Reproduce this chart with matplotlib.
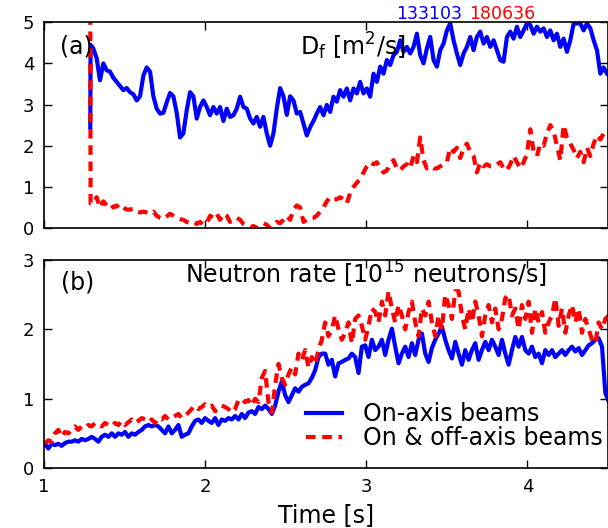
import numpy as np
import matplotlib.pyplot as plt

DT = 0.0207
T0_DF = 1.306
T0_NEUT = 1.006
T_JUMP = 1.287

# (a) fast-ion diffusivity D_f [m^2/s]
df_jump_on = [2.45, 4.45]
df_jump_off = [5.6, 0.6]
df_on = [4.36, 4.12, 3.59, 4.0, 3.83, 3.8, 3.65, 3.55, 3.45, 3.35, 3.4, 3.3, 3.25, 3.1,
         3.2, 3.7, 3.9, 3.8, 3.2, 2.9, 2.78, 2.8, 3.05, 3.28, 3.2, 2.8, 2.2, 2.3, 2.86,
         3.3, 3.2, 2.66, 2.94, 3.1, 2.94, 2.74, 2.94, 2.78, 2.94, 2.6, 2.9, 2.7, 2.74,
         2.9, 3.19, 2.94, 2.9, 2.66, 2.54, 2.7, 2.46, 2.7, 2.3, 2.0, 2.3, 2.9, 3.4, 3.2,
         2.75, 3.2, 3.1, 2.78,
         2.82, 2.54, 2.25, 2.45, 2.6, 2.78, 2.94, 2.74, 2.99, 2.82, 3.19, 3.07, 3.35,
         3.19, 3.39, 3.1, 3.39, 3.27, 3.55, 3.27, 3.39, 3.19, 3.75, 3.55, 3.92, 3.75,
         4.08, 3.96, 4.2, 4.28, 4.56, 4.28, 4.4, 4.24, 4.4, 4.72, 4.2, 4.0, 4.36, 4.64,
         4.08, 3.92, 4.32, 4.48, 4.8, 4.97, 4.56, 4.24, 3.96, 4.24, 4.4, 4.64, 4.32,
         4.64, 4.77, 4.48, 4.64, 4.4, 4.56, 4.32, 4.08, 4.04, 4.64, 4.77, 4.6, 4.89,
         4.64, 4.8, 4.97, 4.93, 4.72, 4.89, 4.77, 4.85, 4.64, 4.8, 4.56, 4.72, 4.4, 4.6,
         4.28, 4.56, 4.97, 4.97, 4.97, 4.8, 4.97, 4.85, 4.56, 4.32, 3.75, 3.9, 3.75]
df_off = [0.6, 0.75, 0.5, 0.65, 0.55, 0.6, 0.5, 0.55, 0.45, 0.5, 0.45, 0.45, 0.47, 0.4,
          0.38, 0.4, 0.38, 0.35, 0.4, 0.3, 0.25, 0.22, 0.28, 0.35, 0.3, 0.25, 0.22, 0.2,
          0.15, 0.12, 0.15, 0.1, 0.15, 0.08, 0.12, 0.3, 0.25, 0.35, 0.2, 0.35, 0.3, 0.15,
          0.2, 0.25, 0.2, 0.1, 0.05, 0.02, 0.05, 0.0, 0.05, 0.12, 0.08, 0.0, 0.05, 0.15,
          0.12, 0.2, 0.3, 0.2, 0.45, 0.55,
          0.5, 0.15, 0.2, 0.25, 0.25, 0.3, 0.4, 0.5, 0.65, 0.75, 0.7, 0.7, 0.75, 0.7,
          0.6, 0.85, 1.0, 1.1, 1.2, 1.35, 1.5, 1.6, 1.55, 1.6, 1.45, 1.35, 1.4, 1.55,
          1.65, 1.45, 1.4, 1.5, 1.55, 1.45, 1.75, 1.6, 2.2, 1.65, 1.45, 1.5, 1.45, 1.45,
          1.5, 1.55, 1.6, 1.95, 1.85, 1.95, 1.7, 1.95, 2.05, 1.85, 1.75, 1.35, 1.6, 1.5,
          1.55, 1.5, 1.5, 1.55, 1.6, 1.45, 1.4, 1.55, 1.75, 1.6, 1.45, 1.6, 1.8, 2.4,
          1.85, 1.75, 2.05, 2.0, 2.3, 2.5, 2.35, 2.0, 1.65, 2.5, 2.2, 2.05, 1.9, 1.7,
          1.85, 1.6, 1.95, 1.75, 2.05, 2.25, 2.15, 2.3, 2.3]

# (b) neutron rate [1e15 n/s]
neut_on = [0.35, 0.28, 0.35, 0.33, 0.35, 0.32, 0.36, 0.38, 0.38, 0.4, 0.38, 0.42, 0.4,
           0.42, 0.45, 0.42, 0.38, 0.45, 0.48, 0.45, 0.5, 0.45, 0.5, 0.48, 0.52, 0.45,
           0.5, 0.48, 0.52, 0.55, 0.6, 0.62, 0.6, 0.62, 0.6, 0.55, 0.5, 0.6, 0.5, 0.55,
           0.62, 0.45, 0.48, 0.5, 0.6, 0.68, 0.7, 0.65, 0.72, 0.68, 0.65, 0.72, 0.62,
           0.7, 0.68, 0.72, 0.7, 0.75, 0.7, 0.78, 0.72, 0.8, 0.82, 0.78, 0.88, 0.85, 0.9,
           0.85, 0.78, 0.9, 1.1, 1.25, 1.05, 0.95, 1.05, 1.15, 1.1,
           1.17, 1.2, 1.22, 1.3, 1.41, 1.6, 1.65, 1.65, 1.49, 1.56, 1.32, 1.51, 1.53,
           1.56, 1.58, 1.65, 1.6, 1.37, 1.75, 1.77, 1.6, 1.85, 1.7, 1.75, 1.85, 1.63,
           1.85, 2.01, 1.75, 1.51, 1.65, 1.75, 1.6, 1.8, 1.63, 1.85, 1.94, 1.65, 1.53,
           1.73, 1.85, 1.94, 2.04, 1.85, 1.7, 1.58, 1.82, 1.65, 1.49, 1.7, 1.56, 1.7,
           1.8, 1.56, 1.7, 1.82, 1.7, 1.85, 1.75, 1.63, 1.85, 1.65, 1.49, 1.7, 1.89,
           1.75, 1.89, 1.7, 1.65, 1.75, 1.6, 1.65, 1.51, 1.7, 1.63, 1.7, 1.6, 1.65, 1.7,
           1.63, 1.7, 1.75, 1.68, 1.73, 1.63, 1.7, 1.77, 1.8, 1.85, 1.87, 1.75, 1.08,
           0.96]
neut_off = [0.35, 0.4, 0.38, 0.5, 0.55, 0.45, 0.52, 0.5, 0.55, 0.6, 0.55, 0.6, 0.58,
            0.62, 0.6, 0.65, 0.62, 0.6, 0.65, 0.62, 0.6, 0.65, 0.62, 0.68, 0.62, 0.66,
            0.7, 0.65, 0.68, 0.72, 0.7, 0.66, 0.7, 0.65, 0.72, 0.7, 0.75, 0.7, 0.72,
            0.75, 0.78, 0.72, 0.75, 0.8, 0.85, 0.9, 0.85, 0.88, 0.92, 0.88, 0.9, 0.82,
            0.85, 0.9, 0.88, 0.85, 0.8, 0.85, 0.98, 1.0, 0.95, 0.98, 0.9, 1.0, 0.95,
            1.3, 1.4, 0.95, 0.8, 1.2, 1.5, 1.3, 1.2, 1.35, 1.45, 1.35, 1.65,
            1.55, 1.7, 1.45, 1.6, 1.5, 1.7, 1.85, 2.1, 1.9, 2.0, 2.2, 2.0, 1.85, 1.95,
            2.1, 1.8, 2.15, 2.2, 2.05, 1.85, 2.05, 2.3, 2.25, 2.1, 2.4, 2.2, 2.55, 2.3,
            2.1, 2.35, 2.2, 2.0, 2.25, 2.4, 2.1, 1.9, 2.3, 2.2, 2.4, 2.1, 1.9, 2.2, 2.0,
            2.5, 2.35, 2.15, 2.55, 2.55, 2.2, 2.0, 2.3, 2.1, 2.4, 2.2, 1.9, 2.2, 2.35,
            2.1, 2.3, 2.0, 2.15, 2.45, 2.5, 2.2, 2.3, 2.0, 2.35, 2.15, 2.4, 1.95, 2.3,
            2.1, 2.25, 1.95, 2.1, 2.2, 2.45, 2.05, 2.3, 1.95, 2.2, 2.35, 2.1, 2.3, 1.95,
            2.15, 2.0, 1.85, 1.8, 2.1, 2.0, 2.15, 2.2]

BLUE = "#0000ff"
RED = "#ff0000"
LW = 3.0
DASH = (0, (2.3, 1.6))
FS_TICK = 13
FS_TEXT = 17

plt.rcParams.update({
    "font.family": "DejaVu Sans",
    "font.size": FS_TEXT,
    "xtick.labelsize": FS_TICK,
    "ytick.labelsize": FS_TICK,
    "xtick.direction": "in",
    "ytick.direction": "in",
    "xtick.top": True,
    "ytick.right": True,
    "xtick.major.size": 6,
    "ytick.major.size": 6,
    "xtick.major.pad": 7,
    "ytick.major.pad": 7,
    "xtick.major.width": 1.0,
    "ytick.major.width": 1.0,
    "axes.linewidth": 1.2,
})

fig = plt.figure(figsize=(6.08, 5.28), dpi=100)
ax1 = fig.add_axes([0.0724, 0.568, 0.9276, 0.390])
ax2 = fig.add_axes([0.0724, 0.1136, 0.9276, 0.394])

# ---- (a) D_f ----
t_df_on = np.concatenate([[T_JUMP, T_JUMP + 0.002], T0_DF + DT * np.arange(len(df_on))])
t_df_off = np.concatenate([[T_JUMP, T_JUMP + 0.002], T0_DF + DT * np.arange(len(df_off))])
ax1.plot(t_df_on, df_jump_on + df_on, color=BLUE, lw=LW)
ax1.plot(t_df_off, df_jump_off + df_off, color=RED, lw=LW, linestyle=DASH)
ax1.set_xlim(1, 4.5)
ax1.set_ylim(0, 5)
ax1.set_xticks([1, 2, 3, 4])
ax1.set_xticklabels([])
ax1.set_yticks([0, 1, 2, 3, 4, 5])
ax1.text(0.028, 0.88, "(a)", transform=ax1.transAxes, va="center", ha="left")
ax1.text(0.453, 0.885, r"D$_\mathrm{f}$ [m$^2$/s]", transform=ax1.transAxes,
         va="center", ha="left")
fig.text(0.651, 0.973, "133103", color=BLUE, ha="left", va="center", fontsize=12.5)
fig.text(0.771, 0.973, "180636", color=RED, ha="left", va="center", fontsize=12.5)

# ---- (b) neutron rate ----
t_n_on = T0_NEUT + DT * np.arange(len(neut_on))
t_n_off = T0_NEUT + DT * np.arange(len(neut_off))
ax2.plot(t_n_on, neut_on, color=BLUE, lw=LW, label="On-axis beams")
ax2.plot(t_n_off, neut_off, color=RED, lw=LW, linestyle=DASH,
         label="On & off-axis beams")
ax2.set_xlim(1, 4.5)
ax2.set_ylim(0, 3)
ax2.set_xticks([1, 2, 3, 4])
ax2.set_yticks([0, 1, 2, 3])
ax2.text(0.03, 0.89, "(b)", transform=ax2.transAxes, va="center", ha="left")
ax2.text(0.25, 0.93, r"Neutron rate [10$^{15}$ neutrons/s]", transform=ax2.transAxes,
         va="center", ha="left")
ax2.set_xlabel("Time [s]", labelpad=5)
ax2.legend(loc="upper left", bbox_to_anchor=(0.465, 0.318), frameon=False,
           handlelength=1.5, handletextpad=0.9, borderaxespad=0, borderpad=0,
           labelspacing=0.02, fontsize=FS_TEXT)

fig.savefig("out.png", dpi=100)
